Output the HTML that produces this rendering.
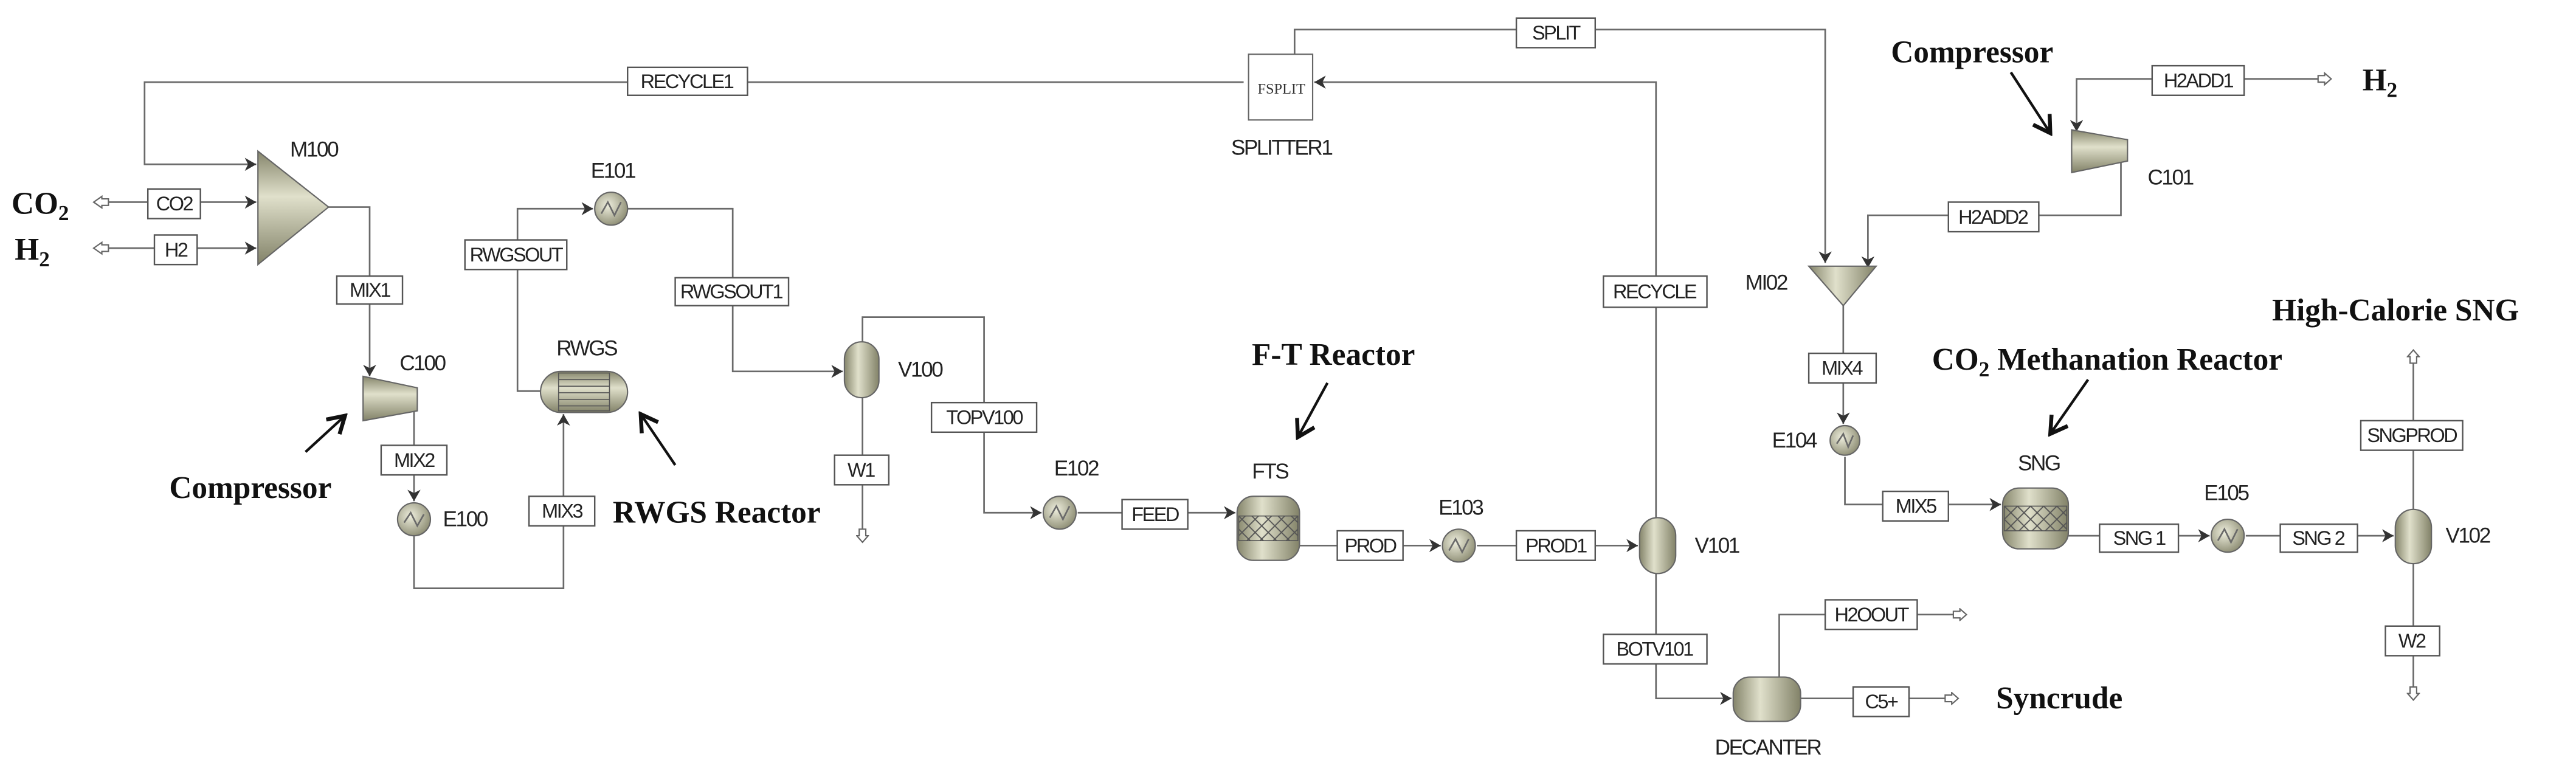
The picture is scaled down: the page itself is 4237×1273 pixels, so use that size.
<!DOCTYPE html>
<html><head><meta charset="utf-8"><style>
html,body{margin:0;padding:0;background:#fff;}
svg{display:block;}
.l{fill:none;stroke:#6a6a6a;stroke-width:1;}
.b{fill:#fff;stroke:#555;stroke-width:0.9;}
.t{font-family:"Liberation Sans",sans-serif;font-size:12px;fill:#222;letter-spacing:-0.9px;text-anchor:middle;dominant-baseline:central;}
.a{font-family:"Liberation Serif",serif;font-weight:bold;font-size:19px;fill:#111;}
.eq{stroke:#666;stroke-width:0.8;}
</style></head><body>
<svg width="4237" height="1273" viewBox="0 0 1568 471" preserveAspectRatio="none" xmlns="http://www.w3.org/2000/svg">
<defs>
<marker id="ar" markerWidth="8" markerHeight="8" refX="7" refY="4" orient="auto" markerUnits="userSpaceOnUse">
<path d="M0,0 L7,4 L0,8 L2,4 Z" fill="#333"/></marker>
<marker id="ho" markerWidth="10" markerHeight="8" refX="9" refY="4" orient="auto" markerUnits="userSpaceOnUse">
<path d="M1,2 L5,2 L5,0.5 L9,4 L5,7.5 L5,6 L1,6 Z" fill="#fff" stroke="#666" stroke-width="0.8"/></marker>
<marker id="bk" markerWidth="14" markerHeight="14" refX="12" refY="7" orient="auto" markerUnits="userSpaceOnUse">
<path d="M2,1 L12,7 L2,13" fill="none" stroke="#111" stroke-width="2.4"/></marker>
<linearGradient id="gv" x1="0" y1="0" x2="1" y2="0"><stop offset="0" stop-color="#85856b"/><stop offset="0.4" stop-color="#e0e0cb"/><stop offset="1" stop-color="#828268"/></linearGradient>
<linearGradient id="gh" x1="0" y1="0" x2="0" y2="1"><stop offset="0" stop-color="#85856b"/><stop offset="0.4" stop-color="#e0e0cb"/><stop offset="1" stop-color="#828268"/></linearGradient>
<radialGradient id="gr" cx="0.4" cy="0.4" r="0.7"><stop offset="0" stop-color="#eeeedd"/><stop offset="1" stop-color="#85856b"/></radialGradient>
<pattern id="xx" width="8" height="8" patternUnits="userSpaceOnUse"><path d="M0,0 L8,8 M8,0 L0,8" stroke="#555" stroke-width="0.7"/></pattern>
</defs>

<polyline class="l" points="757,50 88,50 88,100 156,100" marker-end="url(#ar)"/>
<polyline class="l" points="62,123 156,123" marker-end="url(#ar)"/>
<polyline class="l" points="62,151 156,151" marker-end="url(#ar)"/>
<path d="M66,121 L62,121 L62,119.5 L57,123 L62,126.5 L62,125 L66,125 Z" fill="#fff" stroke="#666" stroke-width="0.8"/>
<path d="M66,149 L62,149 L62,147.5 L57,151 L62,154.5 L62,153 L66,153 Z" fill="#fff" stroke="#666" stroke-width="0.8"/>
<polyline class="l" points="200,126 225,126 225,229" marker-end="url(#ar)"/>
<polyline class="l" points="252,250 252,305" marker-end="url(#ar)"/>
<polyline class="l" points="252,326 252,358 343,358 343,252" marker-end="url(#ar)"/>
<polyline class="l" points="329,238 315,238 315,127 361,127" marker-end="url(#ar)"/>
<polyline class="l" points="382,127 446,127 446,226 513,226" marker-end="url(#ar)"/>
<polyline class="l" points="525,242 525,330" marker-end="url(#ho)"/>
<polyline class="l" points="525,208 525,193 599,193 599,312 634,312" marker-end="url(#ar)"/>
<polyline class="l" points="656,312 752,312" marker-end="url(#ar)"/>
<polyline class="l" points="791,332 877,332" marker-end="url(#ar)"/>
<polyline class="l" points="899,332 997,332" marker-end="url(#ar)"/>
<polyline class="l" points="1008,315 1008,50 800,50" marker-end="url(#ar)"/>
<polyline class="l" points="788,33 788,18 1111,18 1111,160" marker-end="url(#ar)"/>
<polyline class="l" points="1008,349 1008,425 1054,425" marker-end="url(#ar)"/>
<polyline class="l" points="1411,48 1264,48 1264,80" marker-end="url(#ar)"/>
<polyline class="l" points="1291,98 1291,131 1137,131 1137,163" marker-end="url(#ar)"/>
<polyline class="l" points="1122,186 1122,258" marker-end="url(#ar)"/>
<polyline class="l" points="1123,278 1123,307 1218,307" marker-end="url(#ar)"/>
<polyline class="l" points="1259,326 1345,326" marker-end="url(#ar)"/>
<polyline class="l" points="1367,326 1457,326" marker-end="url(#ar)"/>
<polyline class="l" points="1469,310 1469,213" marker-end="url(#ho)"/>
<polyline class="l" points="1469,343 1469,426" marker-end="url(#ho)"/>
<polyline class="l" points="1083,412 1083,374 1197,374" marker-end="url(#ho)"/>
<polyline class="l" points="1096,425 1192,425" marker-end="url(#ho)"/>
<path d="M1411,46 L1415,46 L1415,44.5 L1419,48 L1415,51.5 L1415,50 L1411,50 Z" fill="#fff" stroke="#666" stroke-width="0.8"/>

<polygon class="eq" points="157,92 157,161 200,126" fill="url(#gh)"/>
<polygon class="eq" points="221,229 254,236 254,250 221,256" fill="url(#gh)"/>
<polygon class="eq" points="1261,79 1295,85 1295,98 1261,105" fill="url(#gh)"/>
<polygon class="eq" points="1101,162 1142,162 1122,186" fill="url(#gv)"/>
<circle class="eq" cx="252" cy="316" r="10" fill="url(#gr)"/><path d="M246,318 L250,312 L254,320 L258,313" class="l" stroke="#333"/>
<circle class="eq" cx="372" cy="127" r="10" fill="url(#gr)"/><path d="M366,130 L370,123 L374,131 L378,123" class="l" stroke="#333"/>
<circle class="eq" cx="645" cy="312" r="10" fill="url(#gr)"/><path d="M639,315 L643,308 L647,316 L651,308" class="l" stroke="#333"/>
<circle class="eq" cx="888" cy="332" r="10" fill="url(#gr)"/><path d="M882,335 L886,328 L890,336 L894,328" class="l" stroke="#333"/>
<circle class="eq" cx="1123" cy="268" r="9" fill="url(#gr)"/><path d="M1118,270 L1122,264 L1125,272 L1128,265" class="l" stroke="#333"/>
<circle class="eq" cx="1356" cy="326" r="10" fill="url(#gr)"/><path d="M1350,329 L1354,322 L1358,330 L1362,322" class="l" stroke="#333"/>
<rect class="eq" x="329" y="226" width="53" height="25" rx="12.5" fill="url(#gh)"/>
<rect x="340" y="227" width="31" height="23" fill="none" stroke="#555" stroke-width="0.6"/>
<path d="M340,231H371M340,235H371M340,239H371M340,243H371M340,247H371" stroke="#555" stroke-width="0.6"/>
<rect class="eq" x="514" y="208" width="21" height="34" rx="10.5" fill="url(#gv)"/>
<rect class="eq" x="998" y="315" width="22" height="34" rx="11" fill="url(#gv)"/>
<rect class="eq" x="1458" y="310" width="22" height="33" rx="11" fill="url(#gv)"/>
<rect class="eq" x="1055" y="412" width="41" height="27" rx="10" fill="url(#gv)"/>
<rect class="eq" x="753" y="302" width="38" height="39" rx="10" fill="url(#gv)"/>
<rect x="754" y="314" width="36" height="15" fill="url(#xx)" stroke="#555" stroke-width="0.6"/>
<rect class="eq" x="1219" y="297" width="40" height="37" rx="10" fill="url(#gv)"/>
<rect x="1220" y="308" width="38" height="15" fill="url(#xx)" stroke="#555" stroke-width="0.6"/>
<rect x="760" y="33" width="39" height="40" fill="#fff" stroke="#666" stroke-width="0.8"/>
<text x="780" y="57" style="font-family:'Liberation Serif',serif;font-size:9px;fill:#333;text-anchor:middle">FSPLIT</text>

<g>
<rect class="b" x="382" y="41" width="73" height="17"/><text class="t" x="418" y="49.5">RECYCLE1</text>
<rect class="b" x="90" y="115" width="32" height="18"/><text class="t" x="106" y="124">CO2</text>
<rect class="b" x="94" y="143" width="26" height="18"/><text class="t" x="107" y="152">H2</text>
<rect class="b" x="205" y="168" width="40" height="17"/><text class="t" x="225" y="176.5">MIX1</text>
<rect class="b" x="232" y="271" width="40" height="18"/><text class="t" x="252" y="280">MIX2</text>
<rect class="b" x="322" y="302" width="40" height="18"/><text class="t" x="342" y="311">MIX3</text>
<rect class="b" x="283" y="146" width="62" height="18"/><text class="t" x="314" y="155">RWGSOUT</text>
<rect class="b" x="411" y="169" width="69" height="17"/><text class="t" x="445" y="177.5">RWGSOUT1</text>
<rect class="b" x="508" y="277" width="33" height="18"/><text class="t" x="524" y="286">W1</text>
<rect class="b" x="567" y="245" width="64" height="18"/><text class="t" x="599" y="254">TOPV100</text>
<rect class="b" x="683" y="304" width="40" height="18"/><text class="t" x="703" y="313">FEED</text>
<rect class="b" x="814" y="323" width="40" height="18"/><text class="t" x="834" y="332">PROD</text>
<rect class="b" x="923" y="323" width="48" height="18"/><text class="t" x="947" y="332">PROD1</text>
<rect class="b" x="976" y="168" width="63" height="19"/><text class="t" x="1007" y="177.5">RECYCLE</text>
<rect class="b" x="923" y="11" width="48" height="18"/><text class="t" x="947" y="20">SPLIT</text>
<rect class="b" x="976" y="386" width="63" height="18"/><text class="t" x="1007" y="395">BOTV101</text>
<rect class="b" x="1310" y="40" width="56" height="18"/><text class="t" x="1338" y="49">H2ADD1</text>
<rect class="b" x="1186" y="123" width="55" height="18"/><text class="t" x="1213" y="132">H2ADD2</text>
<rect class="b" x="1101" y="215" width="41" height="18"/><text class="t" x="1121" y="224">MIX4</text>
<rect class="b" x="1146" y="299" width="40" height="18"/><text class="t" x="1166" y="308">MIX5</text>
<rect class="b" x="1278" y="319" width="48" height="17"/><text class="t" x="1302" y="327.5">SNG 1</text>
<rect class="b" x="1388" y="319" width="47" height="17"/><text class="t" x="1411" y="327.5">SNG 2</text>
<rect class="b" x="1437" y="256" width="62" height="18"/><text class="t" x="1468" y="265">SNGPROD</text>
<rect class="b" x="1452" y="381" width="33" height="18"/><text class="t" x="1468" y="390">W2</text>
<rect class="b" x="1111" y="365" width="56" height="18"/><text class="t" x="1139" y="374">H2OOUT</text>
<rect class="b" x="1128" y="418" width="34" height="18"/><text class="t" x="1145" y="427">C5+</text>
</g>

<g>
<text class="t" x="191" y="91" style="font-size:13px">M100</text>
<text class="t" x="257" y="221" style="font-size:13px">C100</text>
<text class="t" x="283" y="316" style="font-size:13px">E100</text>
<text class="t" x="357" y="212" style="font-size:13px">RWGS</text>
<text class="t" x="373" y="104" style="font-size:13px">E101</text>
<text class="t" x="560" y="225" style="font-size:13px">V100</text>
<text class="t" x="655" y="285" style="font-size:13px">E102</text>
<text class="t" x="773" y="287" style="font-size:13px">FTS</text>
<text class="t" x="889" y="309" style="font-size:13px">E103</text>
<text class="t" x="1045" y="332" style="font-size:13px">V101</text>
<text class="t" x="780" y="90" style="font-size:13px">SPLITTER1</text>
<text class="t" x="1075" y="172" style="font-size:13px">MI02</text>
<text class="t" x="1321" y="108" style="font-size:13px">C101</text>
<text class="t" x="1092" y="268" style="font-size:13px">E104</text>
<text class="t" x="1241" y="282" style="font-size:13px">SNG</text>
<text class="t" x="1355" y="300" style="font-size:13px">E105</text>
<text class="t" x="1502" y="326" style="font-size:13px">V102</text>
<text class="t" x="1076" y="455" style="font-size:13px">DECANTER</text>
</g>

<text class="a" x="7" y="130">CO<tspan font-size="13" dy="4">2</tspan></text>
<text class="a" x="9" y="158">H<tspan font-size="13" dy="4">2</tspan></text>
<text class="a" x="1438" y="55">H<tspan font-size="13" dy="4">2</tspan></text>
<text class="a" x="103" y="303">Compressor</text>
<text class="a" x="373" y="318">RWGS Reactor</text>
<text class="a" x="762" y="222">F-T Reactor</text>
<text class="a" x="1151" y="38">Compressor</text>
<text class="a" x="1176" y="225">CO<tspan font-size="13" dy="4">2</tspan><tspan dy="-4"> Methanation Reactor</tspan></text>
<text class="a" x="1383" y="195">High-Calorie SNG</text>
<text class="a" x="1215" y="431">Syncrude</text>
<line x1="186" y1="275" x2="210" y2="253" stroke="#111" stroke-width="1.6" marker-end="url(#bk)"/>
<line x1="411" y1="283" x2="390" y2="252" stroke="#111" stroke-width="1.6" marker-end="url(#bk)"/>
<line x1="808" y1="233" x2="790" y2="266" stroke="#111" stroke-width="1.6" marker-end="url(#bk)"/>
<line x1="1224" y1="44" x2="1248" y2="81" stroke="#111" stroke-width="1.6" marker-end="url(#bk)"/>
<line x1="1271" y1="231" x2="1248" y2="264" stroke="#111" stroke-width="1.6" marker-end="url(#bk)"/>
</svg>
</body></html>
